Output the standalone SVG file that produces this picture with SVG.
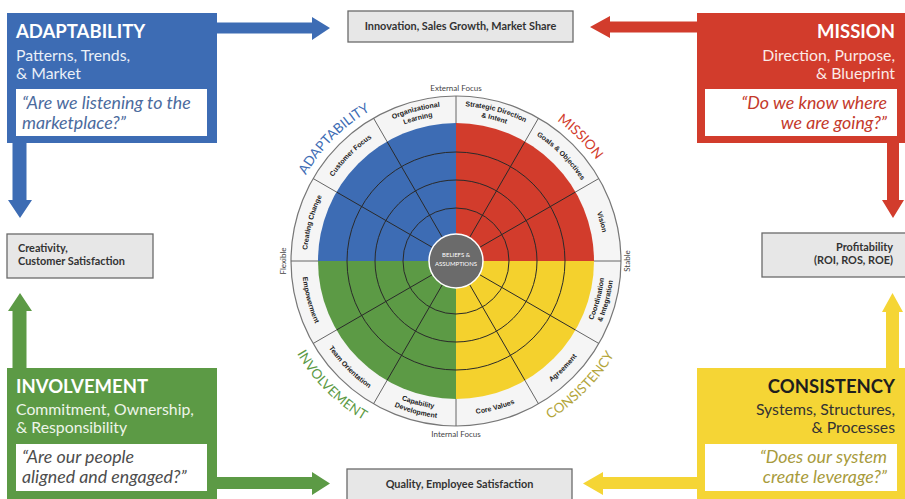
<svg xmlns="http://www.w3.org/2000/svg" xmlns:xlink="http://www.w3.org/1999/xlink" width="905" height="499" viewBox="0 0 905 499">
<style>
.h{font-family:Lato,"Open Sans","Liberation Sans",sans-serif;font-weight:700;font-size:18.5px}
.sub{font-family:Lato,"Open Sans","Liberation Sans",sans-serif;font-size:15.8px}
.q{font-family:Lato,"Open Sans","Liberation Sans",sans-serif;font-style:italic;font-size:17.8px}
.out{font-family:Lato,"Open Sans","Liberation Sans",sans-serif;font-weight:700;font-size:10.9px;fill:#333}
.obox{fill:#e7e7e7;stroke:#6a6a6a;stroke-width:1.3}
.qbox{fill:#fff}
.ring{font-family:"Liberation Sans",Arial,sans-serif;font-weight:700;font-size:7px;fill:#222}
.ql{font-family:Lato,"Open Sans","Liberation Sans",sans-serif;font-size:13.5px}
.ax{font-family:Lato,"Liberation Sans",sans-serif;font-size:8px;fill:#444}
.grid{stroke:#2a2a2a;stroke-width:1;fill:none}
.div{stroke:#666;stroke-width:1}
</style>
<defs>
<path id="t155" d="M301,261 A155,155 0 0 1 611,261"/>
<path id="t146" d="M310,261 A146,146 0 0 1 602,261"/>
<path id="t149" d="M307,261 A149,149 0 0 1 605,261"/>
<path id="t173" d="M283,261 A173,173 0 0 1 629,261"/>
<path id="b149" d="M307,261 A149,149 0 0 0 605,261"/>
<path id="b158" d="M298,261 A158,158 0 0 0 614,261"/>
<path id="b154" d="M302,261 A154,154 0 0 0 610,261"/>
<path id="b184" d="M272,261 A184,184 0 0 0 640,261"/>
</defs>
<rect width="905" height="499" fill="#fff"/>

<g id="connectors">
<path fill="#3d6cb4" d="M217,22.5 H312 V17 L330,28 L312,40 V33.5 H217 Z"/>
<path fill="#3d6cb4" d="M12.5,143 V200 H8 L20,218 L32,200 H26.5 V143 Z"/>
<path fill="#d23c2c" d="M697,21.5 H610 V16 L590,27 L610,38 V32.5 H697 Z"/>
<path fill="#d23c2c" d="M887,143 V200 H882 L893,218 L904,200 H899 V143 Z"/>
<path fill="#5c9a45" d="M12.5,368 V311 H8 L20,293 L32,311 H26.5 V368 Z"/>
<path fill="#5c9a45" d="M217,477 H312 V472 L330,483.5 L312,495 V489 H217 Z"/>
<path fill="#f5d535" d="M886,368 V312 H882 L892.5,293 L903,312 H899 V368 Z"/>
<path fill="#f5d535" d="M697,477 H603 V472 L583,483.5 L603,495 V489 H697 Z"/>
</g>

<g id="adaptability">
<rect x="7" y="13" width="210" height="130" fill="#3d6cb4"/>
<text class="h" x="16" y="38" fill="#fff">ADAPTABILITY</text>
<text class="sub" x="16" y="61" fill="#eaf0f8">Patterns, Trends,</text>
<text class="sub" x="16" y="79" fill="#eaf0f8">&amp; Market</text>
<rect class="qbox" x="16" y="89" width="191" height="47"/>
<text class="q" x="22" y="109" fill="#4b6b9e">“Are we listening to the</text>
<text class="q" x="22" y="129" fill="#4b6b9e">marketplace?”</text>
</g>

<g id="mission">
<rect x="697" y="13" width="208" height="130" fill="#d23c2c"/>
<text class="h" x="895" y="38" fill="#fff" text-anchor="end">MISSION</text>
<text class="sub" x="895" y="61" fill="#fbeae7" text-anchor="end">Direction, Purpose,</text>
<text class="sub" x="895" y="79" fill="#fbeae7" text-anchor="end">&amp; Blueprint</text>
<rect class="qbox" x="705" y="89" width="192" height="47"/>
<text class="q" x="887" y="109" fill="#c4392b" text-anchor="end">“Do we know where</text>
<text class="q" x="887" y="129" fill="#c4392b" text-anchor="end">we are going?”</text>
</g>

<g id="involvement">
<rect x="7" y="368" width="210" height="131" fill="#5c9a45"/>
<text class="h" x="16" y="393" fill="#fff">INVOLVEMENT</text>
<text class="sub" x="16" y="415" fill="#eef5ea">Commitment, Ownership,</text>
<text class="sub" x="16" y="433" fill="#eef5ea">&amp; Responsibility</text>
<rect class="qbox" x="16" y="444" width="191" height="47"/>
<text class="q" x="22" y="463" fill="#4d4d4d">“Are our people</text>
<text class="q" x="22" y="483" fill="#4d4d4d">aligned and engaged?”</text>
</g>

<g id="consistency">
<rect x="697" y="368" width="208" height="131" fill="#f5d535"/>
<text class="h" x="895" y="393" fill="#1e1e1e" text-anchor="end">CONSISTENCY</text>
<text class="sub" x="895" y="415" fill="#333" text-anchor="end">Systems, Structures,</text>
<text class="sub" x="895" y="433" fill="#333" text-anchor="end">&amp; Processes</text>
<rect class="qbox" x="705" y="444" width="192" height="47"/>
<text class="q" x="887" y="463" fill="#a89b3c" text-anchor="end">“Does our system</text>
<text class="q" x="887" y="483" fill="#a89b3c" text-anchor="end">create leverage?”</text>
</g>

<g id="out-top">
<rect class="obox" x="348" y="11" width="225" height="31"/>
<text class="out" x="460.5" y="30" text-anchor="middle">Innovation, Sales Growth, Market Share</text>
</g>
<g id="out-bottom">
<rect class="obox" x="347" y="469" width="225" height="40"/>
<text class="out" x="459.5" y="488" text-anchor="middle">Quality, Employee Satisfaction</text>
</g>
<g id="out-left">
<rect class="obox" x="7" y="234" width="146" height="44"/>
<text class="out" x="18" y="252">Creativity,</text>
<text class="out" x="18" y="265">Customer Satisfaction</text>
</g>
<g id="out-right">
<rect class="obox" x="762" y="233" width="150" height="44"/>
<text class="out" x="893" y="251" text-anchor="end">Profitability</text>
<text class="out" x="893" y="264" text-anchor="end">(ROI, ROS, ROE)</text>
</g>

<g id="wheel">
<circle cx="456" cy="261" r="165" fill="#f5f5f5" stroke="#777" stroke-width="1.2"/>
<path fill="#3d6cb4" d="M456,261 L318,261 A138,138 0 0 1 456,123 Z"/>
<path fill="#d23c2c" d="M456,261 L456,123 A138,138 0 0 1 594,261 Z"/>
<path fill="#f4d12d" d="M456,261 L594,261 A138,138 0 0 1 456,399 Z"/>
<path fill="#5c9a45" d="M456,261 L456,399 A138,138 0 0 1 318,261 Z"/>
<circle class="grid" cx="456" cy="261" r="53"/>
<circle class="grid" cx="456" cy="261" r="81"/>
<circle class="grid" cx="456" cy="261" r="109"/>
<g class="grid">
<line x1="479.38" y1="247.5" x2="575.51" y2="192"/>
<line x1="469.5" y1="237.62" x2="525" y2="141.49"/>
<line x1="442.5" y1="237.62" x2="387" y2="141.49"/>
<line x1="432.62" y1="247.5" x2="336.49" y2="192"/>
<line x1="432.62" y1="274.5" x2="336.49" y2="330"/>
<line x1="442.5" y1="284.38" x2="387" y2="380.51"/>
<line x1="469.5" y1="284.38" x2="525" y2="380.51"/>
<line x1="479.38" y1="274.5" x2="575.51" y2="330"/>
</g>
<g class="div">
<line x1="575.51" y1="192" x2="598.89" y2="178.5"/>
<line x1="525" y1="141.49" x2="538.5" y2="118.11"/>
<line x1="387" y1="141.49" x2="373.5" y2="118.11"/>
<line x1="336.49" y1="192" x2="313.11" y2="178.5"/>
<line x1="336.49" y1="330" x2="313.11" y2="343.5"/>
<line x1="387" y1="380.51" x2="373.5" y2="403.89"/>
<line x1="525" y1="380.51" x2="538.5" y2="403.89"/>
<line x1="575.51" y1="330" x2="598.89" y2="343.5"/>
<line x1="456" y1="123" x2="456" y2="96"/>
<line x1="594" y1="261" x2="621" y2="261"/>
<line x1="456" y1="399" x2="456" y2="426"/>
<line x1="318" y1="261" x2="291" y2="261"/>
</g>
<circle cx="456" cy="261" r="27" fill="#6b6b6b" stroke="#fff" stroke-width="1.5"/>
<text x="456" y="257" text-anchor="middle" font-family="Lato,'Liberation Sans',sans-serif" font-size="6" fill="#fff">BELIEFS &amp;</text>
<text x="456" y="266" text-anchor="middle" font-family="Lato,'Liberation Sans',sans-serif" font-size="6" fill="#fff">ASSUMPTIONS</text>

<text class="ring" text-anchor="middle"><textPath xlink:href="#t149" href="#t149" startOffset="8.33%">Creating Change</textPath></text>
<text class="ring" text-anchor="middle"><textPath xlink:href="#t149" href="#t149" startOffset="25%">Customer Focus</textPath></text>
<text class="ring" text-anchor="middle"><textPath xlink:href="#t155" href="#t155" startOffset="41.67%">Organizational</textPath></text>
<text class="ring" text-anchor="middle"><textPath xlink:href="#t146" href="#t146" startOffset="41.67%">Learning</textPath></text>
<text class="ring" text-anchor="middle"><textPath xlink:href="#t155" href="#t155" startOffset="58.33%">Strategic Direction</textPath></text>
<text class="ring" text-anchor="middle"><textPath xlink:href="#t146" href="#t146" startOffset="58.33%">&amp; Intent</textPath></text>
<text class="ring" text-anchor="middle"><textPath xlink:href="#t149" href="#t149" startOffset="75%">Goals &amp; Objectives</textPath></text>
<text class="ring" text-anchor="middle"><textPath xlink:href="#t149" href="#t149" startOffset="91.67%">Vision</textPath></text>
<text class="ring" text-anchor="middle"><textPath xlink:href="#b154" href="#b154" startOffset="8.33%">Empowerment</textPath></text>
<text class="ring" text-anchor="middle"><textPath xlink:href="#b154" href="#b154" startOffset="25%">Team Orientation</textPath></text>
<text class="ring" text-anchor="middle"><textPath xlink:href="#b149" href="#b149" startOffset="41.67%">Capability</textPath></text>
<text class="ring" text-anchor="middle"><textPath xlink:href="#b158" href="#b158" startOffset="41.67%">Development</textPath></text>
<text class="ring" text-anchor="middle"><textPath xlink:href="#b154" href="#b154" startOffset="58.33%">Core Values</textPath></text>
<text class="ring" text-anchor="middle"><textPath xlink:href="#b154" href="#b154" startOffset="75%">Agreement</textPath></text>
<text class="ring" text-anchor="middle"><textPath xlink:href="#b149" href="#b149" startOffset="91.67%">Coordination</textPath></text>
<text class="ring" text-anchor="middle"><textPath xlink:href="#b158" href="#b158" startOffset="91.67%">&amp; Integration</textPath></text>

<text class="ql" fill="#3d6cb4" text-anchor="middle"><textPath xlink:href="#t173" href="#t173" startOffset="25%">ADAPTABILITY</textPath></text>
<text class="ql" fill="#d23c2c" text-anchor="middle"><textPath xlink:href="#t173" href="#t173" startOffset="75%">MISSION</textPath></text>
<text class="ql" fill="#5c9a45" text-anchor="middle"><textPath xlink:href="#b184" href="#b184" startOffset="25%">INVOLVEMENT</textPath></text>
<text class="ql" fill="#b3a53a" text-anchor="middle"><textPath xlink:href="#b184" href="#b184" startOffset="75%">CONSISTENCY</textPath></text>

<text class="ax" x="456" y="91" text-anchor="middle">External Focus</text>
<text class="ax" x="456" y="437" text-anchor="middle">Internal Focus</text>
<text class="ax" transform="translate(286,261) rotate(-90)" text-anchor="middle">Flexible</text>
<text class="ax" transform="translate(630,261) rotate(-90)" text-anchor="middle">Stable</text>
</g>
</svg>
